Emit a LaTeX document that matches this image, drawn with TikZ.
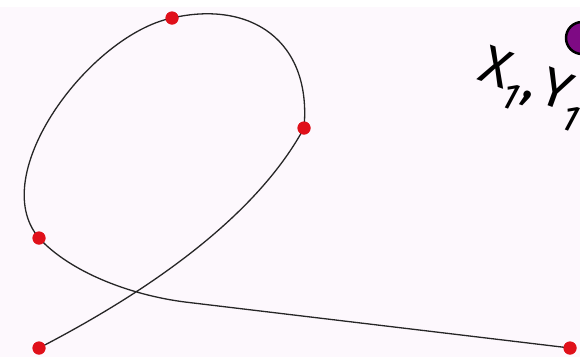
\documentclass[tikz,border=0pt]{standalone}
\usepackage{fontspec}
\setsansfont{Fira Sans}
\usepackage{tikz}
\usetikzlibrary{positioning}
\definecolor{paper}{HTML}{FDF8FD}
\definecolor{dotred}{HTML}{E0101A}
\definecolor{dotpurple}{HTML}{7E0A84}

\tikzset{
    pt/.style={circle,fill=dotred,inner sep=0pt,minimum size=13pt},
    curve/.style={line width=1.3pt,draw=black!85},
}

\begin{document}
\begin{tikzpicture}[x=1pt,y=-1pt]
    \fill[paper] (0,0) rectangle (580,357);
    \fill[white] (0,0) rectangle (580,7);
    \useasboundingbox (0,0) rectangle (580,357);

    % the red points of the curve
    \node[pt] (A) at (39,348) {};
    \node[pt] (B) at (304,128) {};
    \node[pt] (C) at (172,18) {};
    \node[pt] (D) at (39,238) {};
    \node[pt] (E) at (570,348) {};
    \coordinate (F) at (185,302);

    \draw[curve] (A.center) .. controls (180,275) and (265,200) .. (B.center)
        .. controls (312,40) and (250,0) .. (C.center)
        .. controls (90,35) and (-15,175) .. (D.center)
        .. controls (70,272) and (130,295) .. (F) -- (E.center);

    \foreach \p in {A,B,C,D,E}
        \node[pt] at (\p) {};

    % the moving point and its label
    \filldraw[fill=dotpurple,draw=black,line width=2.5pt] (582,38) circle (16);
    \node[rotate=-20,font=\sffamily\fontsize{54}{54}\selectfont,anchor=west,inner sep=0pt] (lbl) at (480,70)
        {X\textsubscript{\itshape 1}\hspace{1pt},\hspace{4pt}Y\textsubscript{\itshape 1}};
\end{tikzpicture}
\end{document}
